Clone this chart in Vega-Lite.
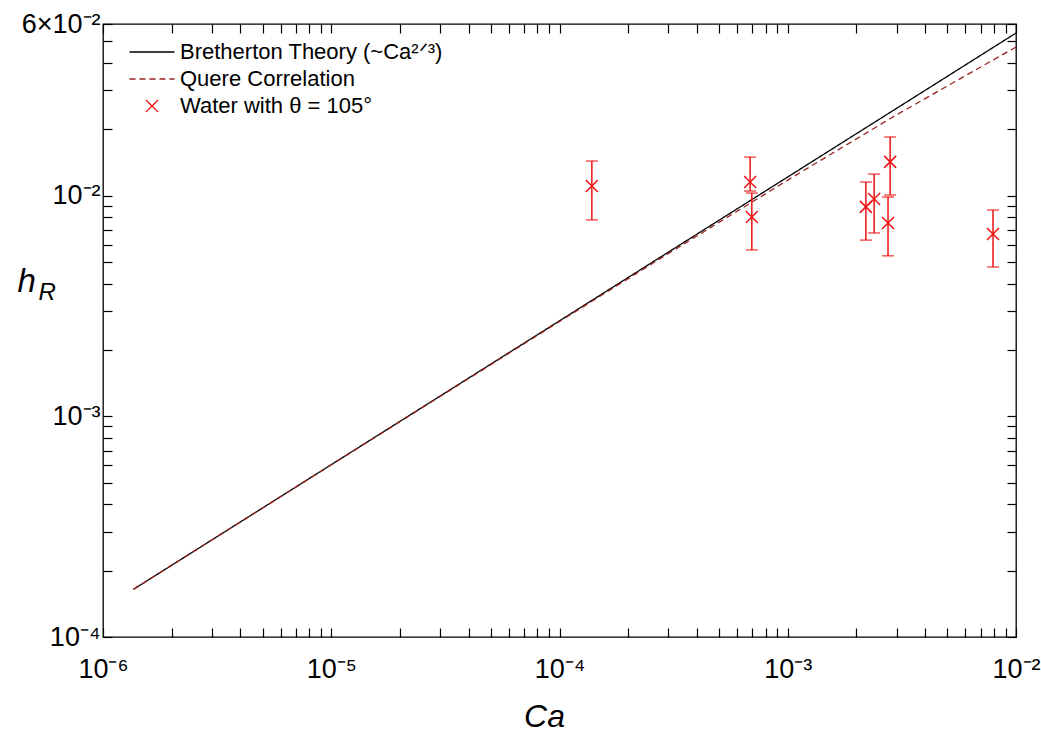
{
  "$schema": "https://vega.github.io/schema/vega-lite/v6.json",
  "width": 913,
  "height": 613,
  "autosize": {"type": "none"},
  "padding": {"left": 103, "top": 24, "right": 25, "bottom": 95},
  "background": "white",
  "config": {
    "view": {"stroke": "black", "strokeWidth": 1.3},
    "axis": {"grid": false, "domain": false, "tickColor": "black", "tickWidth": 1.2, "labelColor": "black", "titleColor": "black", "labelFont": "Liberation Sans", "titleFont": "Liberation Sans", "labelOverlap": false, "labelFlush": false},
    "legend": {"orient": "none", "legendX": 38, "legendY": 17, "labelFont": "Liberation Sans", "labelFontSize": 22, "labelLimit": 0, "labelColor": "black", "symbolSize": 324, "symbolStrokeWidth": 1.3, "rowPadding": 5, "labelOffset": 17, "padding": 0, "title": null}
  },
  "datasets": {
    "lines": [
      {"series": "Bretherton Theory (~Ca²ᐟ³)", "Ca": 1.36e-6, "h": 0.0001645},
      {"series": "Bretherton Theory (~Ca²ᐟ³)", "Ca": 1e-5, "h": 0.000604},
      {"series": "Bretherton Theory (~Ca²ᐟ³)", "Ca": 1e-4, "h": 0.00271},
      {"series": "Bretherton Theory (~Ca²ᐟ³)", "Ca": 3e-4, "h": 0.00555},
      {"series": "Bretherton Theory (~Ca²ᐟ³)", "Ca": 1e-3, "h": 0.01216},
      {"series": "Bretherton Theory (~Ca²ᐟ³)", "Ca": 3e-3, "h": 0.02489},
      {"series": "Bretherton Theory (~Ca²ᐟ³)", "Ca": 1e-2, "h": 0.0546},
      {"series": "Quere Correlation", "Ca": 1.36e-6, "h": 0.0001644},
      {"series": "Quere Correlation", "Ca": 1e-5, "h": 0.000603},
      {"series": "Quere Correlation", "Ca": 1e-4, "h": 0.00269},
      {"series": "Quere Correlation", "Ca": 3e-4, "h": 0.00547},
      {"series": "Quere Correlation", "Ca": 1e-3, "h": 0.01177},
      {"series": "Quere Correlation", "Ca": 3e-3, "h": 0.02327},
      {"series": "Quere Correlation", "Ca": 1e-2, "h": 0.0472}
    ],
    "pts": [
      {"series": "Water with θ = 105°", "Ca": 0.0001386, "h": 0.01107, "lo": 0.00777, "hi": 0.01436},
      {"series": "Water with θ = 105°", "Ca": 0.000684, "h": 0.01153, "lo": 0.0105, "hi": 0.01496},
      {"series": "Water with θ = 105°", "Ca": 0.000696, "h": 0.0080, "lo": 0.00568, "hi": 0.01028},
      {"series": "Water with θ = 105°", "Ca": 0.0022, "h": 0.0089, "lo": 0.00629, "hi": 0.01153},
      {"series": "Water with θ = 105°", "Ca": 0.00239, "h": 0.00966, "lo": 0.00678, "hi": 0.01253},
      {"series": "Water with θ = 105°", "Ca": 0.00281, "h": 0.01423, "lo": 0.01007, "hi": 0.01845},
      {"series": "Water with θ = 105°", "Ca": 0.00275, "h": 0.00752, "lo": 0.00534, "hi": 0.00986},
      {"series": "Water with θ = 105°", "Ca": 0.00793, "h": 0.0067, "lo": 0.00475, "hi": 0.00861}
    ]
  },
  "layer": [
    {
      "data": {"name": "lines"},
      "mark": {"type": "line", "strokeWidth": 1.3, "clip": true},
      "encoding": {
        "x": {"field": "Ca", "type": "quantitative", "scale": {"type": "log", "domain": [1e-6, 0.01], "nice": false},
          "axis": {"orient": "bottom", "values": [1e-6,2e-6,3e-6,4e-6,5e-6,6e-6,7e-6,8e-6,9e-6,1e-5,2e-5,3e-5,4e-5,5e-5,6e-5,7e-5,8e-5,9e-5,1e-4,2e-4,3e-4,4e-4,5e-4,6e-4,7e-4,8e-4,9e-4,1e-3,2e-3,3e-3,4e-3,5e-3,6e-3,7e-3,8e-3,9e-3,1e-2],
            "labelExpr": "datum.value == 1e-6 ? '10⁻⁶' : datum.value == 1e-5 ? '10⁻⁵' : datum.value == 0.0001 ? '10⁻⁴' : datum.value == 0.001 ? '10⁻³' : datum.value == 0.01 ? '10⁻²' : ''",
            "tickSize": -9, "labelFontSize": 27, "labelPadding": 28,
            "title": "Ca", "titleFontSize": 32, "titleFontStyle": "italic", "titleFontWeight": "normal", "titleX": 441, "titleY": 89, "titleAlign": "center", "titleBaseline": "alphabetic"}},
        "y": {"field": "h", "type": "quantitative", "scale": {"type": "log", "domain": [0.0001, 0.06], "nice": false},
          "axis": {"orient": "left", "values": [1e-4,2e-4,3e-4,4e-4,5e-4,6e-4,7e-4,8e-4,9e-4,1e-3,2e-3,3e-3,4e-3,5e-3,6e-3,7e-3,8e-3,9e-3,1e-2,2e-2,3e-2,4e-2,5e-2,6e-2],
            "labelExpr": "datum.value == 0.0001 ? '10⁻⁴' : datum.value == 0.001 ? '10⁻³' : datum.value == 0.01 ? '10⁻²' : datum.value == 0.06 ? '6×10⁻²' : ''",
            "tickSize": -9, "labelFontSize": 27, "labelPadding": 12,
            "title": "h", "titleFontSize": 33, "titleFontStyle": "italic", "titleFontWeight": "normal", "titleAngle": 0, "titleX": -86, "titleY": 267, "titleAlign": "left", "titleBaseline": "alphabetic"}},
        "color": {"field": "series", "type": "nominal", "scale": {"domain": ["Bretherton Theory (~Ca²ᐟ³)", "Quere Correlation", "Water with θ = 105°"], "range": ["black", "#992222", "#ee1111"]}},
        "strokeDash": {"field": "series", "type": "nominal", "scale": {"domain": ["Bretherton Theory (~Ca²ᐟ³)", "Quere Correlation", "Water with θ = 105°"], "range": [[1, 0], [6, 4], [1, 0]]}}
      }
    },
    {
      "data": {"name": "pts"},
      "mark": {"type": "rule", "strokeWidth": 1.5, "color": "#ee1111"},
      "encoding": {
        "x": {"field": "Ca", "type": "quantitative", "axis": {"orient": "top", "values": [1e-6,2e-6,3e-6,4e-6,5e-6,6e-6,7e-6,8e-6,9e-6,1e-5,2e-5,3e-5,4e-5,5e-5,6e-5,7e-5,8e-5,9e-5,1e-4,2e-4,3e-4,4e-4,5e-4,6e-4,7e-4,8e-4,9e-4,1e-3,2e-3,3e-3,4e-3,5e-3,6e-3,7e-3,8e-3,9e-3,1e-2], "labels": false, "tickSize": -9, "title": null}},
        "y": {"field": "lo", "type": "quantitative", "axis": {"orient": "right", "values": [1e-4,2e-4,3e-4,4e-4,5e-4,6e-4,7e-4,8e-4,9e-4,1e-3,2e-3,3e-3,4e-3,5e-3,6e-3,7e-3,8e-3,9e-3,1e-2,2e-2,3e-2,4e-2,5e-2,6e-2], "labels": false, "tickSize": -9, "title": null}},
        "y2": {"field": "hi"}
      }
    },
    {
      "data": {"name": "pts"},
      "mark": {"type": "tick", "orient": "horizontal", "size": 12, "thickness": 1.5, "color": "#ee1111"},
      "encoding": {
        "x": {"field": "Ca", "type": "quantitative", "axis": null},
        "y": {"field": "lo", "type": "quantitative", "axis": {"orient": "left", "domain": false, "ticks": false, "labels": false, "title": "R", "titleFontSize": 24, "titleFontStyle": "italic", "titleFontWeight": "normal", "titleAngle": 0, "titleX": -65, "titleY": 275, "titleAlign": "left", "titleBaseline": "alphabetic"}}
      }
    },
    {
      "data": {"name": "pts"},
      "mark": {"type": "tick", "orient": "horizontal", "size": 12, "thickness": 1.5, "color": "#ee1111"},
      "encoding": {
        "x": {"field": "Ca", "type": "quantitative", "axis": null},
        "y": {"field": "hi", "type": "quantitative", "axis": null}
      }
    },
    {
      "data": {"name": "pts"},
      "mark": {"type": "point", "filled": false, "size": 324, "strokeWidth": 1.5, "opacity": 1},
      "encoding": {
        "x": {"field": "Ca", "type": "quantitative", "axis": null},
        "y": {"field": "h", "type": "quantitative", "axis": null},
        "color": {"field": "series", "type": "nominal"},
        "shape": {"field": "series", "type": "nominal", "scale": {"domain": ["Bretherton Theory (~Ca²ᐟ³)", "Quere Correlation", "Water with θ = 105°"], "range": ["M-2.5,0H2.5", "M-2.5,0H2.5", "M-0.667,-0.667L0.667,0.667M0.667,-0.667L-0.667,0.667"]}}
      }
    }
  ],
  "resolve": {"axis": {"x": "independent", "y": "independent"}}
}
